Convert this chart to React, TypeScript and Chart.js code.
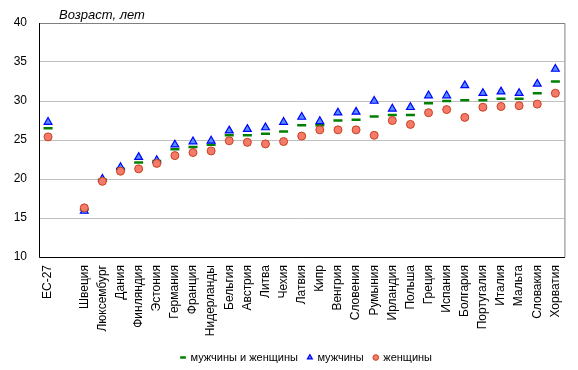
import React, { useEffect, useRef } from "react";
import { Chart, registerables } from "chart.js";

Chart.register(...registerables);

const categories = [
  "ЕС-27", "", "Швеция", "Люксембург", "Дания", "Финляндия", "Эстония", "Германия",
  "Франция", "Нидерланды", "Бельгия", "Австрия", "Литва", "Чехия", "Латвия", "Кипр",
  "Венгрия", "Словения", "Румыния", "Ирландия", "Польша", "Греция", "Испания",
  "Болгария", "Португалия", "Италия", "Мальта", "Словакия", "Хорватия",
];

const allValues = [
  26.5, null, 16.1, 19.9, 21.3, 22.1, 22.3, 23.8, 24.1, 24.4,
  25.6, 25.6, 25.8, 26.1, 26.9, 26.9, 27.5, 27.6, 28.0, 28.2,
  28.2, 29.7, 30.0, 30.1, 30.1, 30.3, 30.3, 31.0, 32.5,
];

const menValues = [
  27.3, null, 15.9, 20.0, 21.5, 22.8, 22.4, 24.4, 24.8, 24.9,
  26.2, 26.4, 26.6, 27.3, 27.95, 27.4, 28.5, 28.6, 30.0, 29.0,
  29.2, 30.7, 30.7, 32.0, 31.0, 31.2, 31.0, 32.2, 34.1,
];

const womenValues = [
  25.4, null, 16.3, 19.7, 21.0, 21.3, 22.0, 23.0, 23.4, 23.6,
  24.9, 24.7, 24.5, 24.8, 25.5, 26.3, 26.3, 26.3, 25.6, 27.5,
  27.0, 28.5, 28.9, 27.9, 29.2, 29.3, 29.4, 29.6, 31.0,
];

const seriesNames = ["мужчины и женщины", "мужчины", "женщины"];
const yTitle = "Возраст, лет";

const FONT = "'Liberation Sans', Arial, sans-serif";

export default function App() {
  const canvasRef = useRef<HTMLCanvasElement | null>(null);

  useEffect(() => {
    document.body.style.margin = "0";
    const canvas = canvasRef.current;
    if (!canvas) return;

    const framePlugin = {
      id: "frame",
      afterLayout(chart: any) {
        const lg = chart.legend;
        if (lg) {
          lg.left += 24;
          lg.right += 24;
          lg.top += 3;
          lg.bottom += 3;
        }
      },
      beforeDatasetsDraw(chart: any) {
        const { ctx, chartArea } = chart;
        const { left, right, top, bottom } = chartArea;
        ctx.save();
        ctx.strokeStyle = "#808080";
        ctx.lineWidth = 1;
        ctx.beginPath();
        ctx.moveTo(left, top + 0.5);
        ctx.lineTo(right + 0.5, top + 0.5);
        ctx.lineTo(right + 0.5, bottom);
        ctx.stroke();
        ctx.strokeStyle = "#000000";
        ctx.beginPath();
        ctx.moveTo(left + 0.5, top);
        ctx.lineTo(left + 0.5, bottom + 0.5);
        ctx.lineTo(right + 0.5, bottom + 0.5);
        ctx.stroke();
        ctx.restore();
      },
      afterDraw(chart: any) {
        const { ctx } = chart;
        ctx.save();
        ctx.font = `italic 13px ${FONT}`;
        ctx.fillStyle = "#000000";
        ctx.textAlign = "left";
        ctx.textBaseline = "middle";
        ctx.fillText(yTitle, 59, 15);
        ctx.restore();
      },
    };

    const chart = new Chart(canvas, {
      type: "line",
      data: {
        labels: categories,
        datasets: [
          {
            label: seriesNames[0],
            data: allValues,
            showLine: false,
            pointStyle: "line",
            pointRadius: 4.5,
            pointBorderWidth: 2.5,
            borderColor: "#008000",
            backgroundColor: "#008000",
            borderWidth: 2.5,
            order: 3,
          },
          {
            label: seriesNames[1],
            data: menValues,
            showLine: false,
            pointStyle: "triangle",
            pointRadius: 4.5,
            pointBorderWidth: 1.2,
            borderColor: "#0000ff",
            backgroundColor: "#4f8fff",
            borderWidth: 1.2,
            order: 2,
          },
          {
            label: seriesNames[2],
            data: womenValues,
            showLine: false,
            pointStyle: "circle",
            pointRadius: 4,
            pointBorderWidth: 1,
            borderColor: "#c8401e",
            backgroundColor: "#f47a6a",
            borderWidth: 1,
            order: 1,
          },
        ],
      },
      options: {
        responsive: false,
        animation: false,
        devicePixelRatio: 1,
        layout: { padding: { top: 23, right: 13, left: 0, bottom: 0 } },
        plugins: {
          tooltip: { enabled: false },
          legend: {
            position: "bottom",
            labels: {
              usePointStyle: true,
              boxWidth: 4,
              boxHeight: 4,
              padding: 10,
              color: "#000000",
              font: { family: FONT, size: 11 },
              sort: (a: any, b: any) => a.datasetIndex - b.datasetIndex,
            },
          },
        },
        scales: {
          x: {
            type: "category",
            offset: true,
            grid: { display: false, drawTicks: false },
            border: { display: false },
            ticks: {
              autoSkip: false,
              minRotation: 90,
              maxRotation: 90,
              padding: 8,
              color: "#000000",
              font: { family: FONT, size: 12 },
            },
            afterFit(scale: any) {
              scale.height = 82;
            },
          },
          y: {
            min: 10,
            max: 40,
            grid: { color: "#c0c0c0", drawTicks: false },
            border: { display: false },
            ticks: {
              stepSize: 5,
              padding: 12,
              color: "#000000",
              font: { family: FONT, size: 12 },
            },
            afterFit(scale: any) {
              scale.width = 39;
            },
          },
        },
      },
      plugins: [framePlugin],
    });

    return () => chart.destroy();
  }, []);

  return (
    <div style={{ width: 578, height: 370 }}>
      <canvas ref={canvasRef} width={578} height={370} />
    </div>
  );
}
